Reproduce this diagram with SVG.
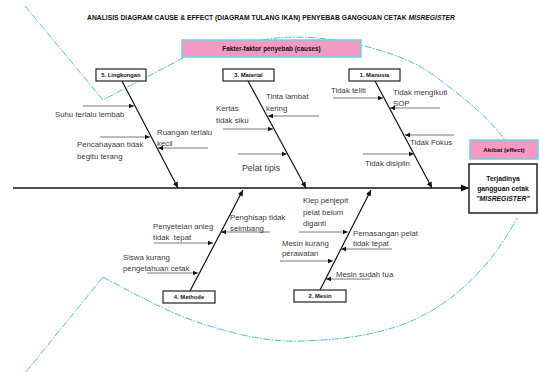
<svg xmlns="http://www.w3.org/2000/svg" width="539" height="372" viewBox="0 0 539 372">
<style>
text{font-family:"Liberation Sans","Open Sans",sans-serif;fill:#3a3a3a}
.t{font-size:7.8px}
.b{font-weight:bold;fill:#111}
.lbl{font-size:5.8px;font-weight:bold;text-anchor:middle;fill:#111}
.box{fill:#fff;stroke:#222;stroke-width:1.2}
.pink{fill:#f49ac2;stroke:#6fd0e0;stroke-width:1.5}
.fish{fill:none;stroke:#4cbfd9;stroke-width:1;stroke-dasharray:7 1.5 1.5 1.5}
.bone{stroke:#111;stroke-width:1.2;fill:none;marker-end:url(#a)}
.sub{stroke:#555;stroke-width:0.8;fill:none;marker-end:url(#s)}
</style>
<defs>
<marker id="a" markerWidth="7" markerHeight="6" refX="6" refY="3" orient="auto" markerUnits="userSpaceOnUse"><path d="M0,0.3 L6,3 L0,5.7 z" fill="#111"/></marker>
<marker id="s" markerWidth="6" markerHeight="6" refX="5" refY="3" orient="auto" markerUnits="userSpaceOnUse"><path d="M0,0.7 L5,3 L0,5.3 z" fill="#111"/></marker>
<marker id="big" markerWidth="9" markerHeight="8" refX="8" refY="4" orient="auto" markerUnits="userSpaceOnUse"><path d="M0,0.5 L8,4 L0,7.5 z" fill="#111"/></marker>
</defs>
<rect width="539" height="372" fill="#fff"/>
<g id="fish-outline">
<path class="fish" d="M25,6 L103,100 L183,58"/>
<path class="fish" d="M26,372 L103,277"/>
<path class="fish" d="M103,277 C140,297 170,313 200,323 C240,336 270,342 300,341 C350,340 390,332 420,317 C470,292 500,250 517,218"/>
<path class="fish" d="M262,40 C300,33 345,40 372,48 C400,56 420,64 440,80 C470,102 490,120 505,140"/>
</g>
<text id="title" x="87" y="20" font-size="6.3" class="b" textLength="368" lengthAdjust="spacingAndGlyphs">ANALISIS DIAGRAM CAUSE &amp; EFFECT (DIAGRAM TULANG IKAN) PENYEBAB GANGGUAN CETAK <tspan font-style="italic">MISREGISTER</tspan></text>
<g id="causes-header">
<rect class="pink" x="182" y="40" width="179" height="17"/>
<text x="271.5" y="51" font-size="6.4" class="b" text-anchor="middle">Fakter-faktor penyebab (causes)</text>
</g>
<g id="connectors">
<line x1="13" y1="188" x2="469" y2="188" stroke="#111" stroke-width="1.5" marker-end="url(#big)"/>
<path class="bone" d="M122,81 L178,188"/>
<path class="bone" d="M248,81 L306,188"/>
<path class="bone" d="M375,81 L432,188"/>
<path class="bone" d="M190,291 L243,190"/>
<path class="bone" d="M320,290 L371,190"/>
<path class="sub" d="M83,106 L134,106"/>
<path class="sub" d="M100,137 L150,137"/>
<path class="sub" d="M208,148 L158,148"/>
<path class="sub" d="M319,116 L268,116"/>
<path class="sub" d="M223,129 L273,129"/>
<path class="sub" d="M238,154 L287,154"/>
<path class="sub" d="M333,98 L383,98"/>
<path class="sub" d="M440,108 L390,108"/>
<path class="sub" d="M454,135 L405,135"/>
<path class="sub" d="M363,154 L414,154"/>
<path class="sub" d="M154,243 L213,243"/>
<path class="sub" d="M147,273 L198,273"/>
<path class="sub" d="M270,232 L221,232"/>
<path class="sub" d="M299,232 L348,232"/>
<path class="sub" d="M392,249 L341,249"/>
<path class="sub" d="M280,261 L333,261"/>
<path class="sub" d="M370,279 L326,279"/>
</g>
<g id="lingkungan">
<rect class="box" x="96" y="69" width="50" height="12"/>
<text class="lbl" x="121" y="77">5. Lingkungan</text>
<text class="t" x="55" y="117">Suhu terlalu lembab</text>
<text class="t" x="77" y="146.5">Pencahayaan tidak</text>
<text class="t" x="77" y="158.5">begitu terang</text>
<text class="t" x="157" y="134.5">Ruangan terlalu</text>
<text class="t" x="157" y="145.5">kecil</text>
</g>
<g id="material">
<rect class="box" x="223" y="69" width="51" height="12"/>
<text class="lbl" x="248.5" y="77">3. Material</text>
<text class="t" x="266" y="98.5">Tinta lambat</text>
<text class="t" x="266" y="110.5">kering</text>
<text class="t" x="216" y="110.5">Kertas</text>
<text class="t" x="216" y="122.5">tidak siku</text>
<text x="242" y="170.5" font-size="8.8">Pelat tipis</text>
</g>
<g id="manusia">
<rect class="box" x="349" y="69" width="51" height="12"/>
<text class="lbl" x="374.5" y="77">1. Manusia</text>
<text class="t" x="331" y="92.5">Tidak teliti</text>
<text class="t" x="393" y="94.5">Tidak mengikuti</text>
<text class="t" x="393" y="105.5">SOP</text>
<text class="t" x="410" y="144.5">Tidak Fokus</text>
<text class="t" x="365" y="165.5">Tidak disiplin</text>
</g>
<g id="methode">
<rect class="box" x="163" y="291" width="52" height="12"/>
<text class="lbl" x="189" y="299">4. Methode</text>
<text class="t" x="153" y="228.5">Penyetelan anleg</text>
<text class="t" x="153" y="239.5" xml:space="preserve">tidak  tepat</text>
<text class="t" x="123" y="259.5">Siswa kurang</text>
<text class="t" x="123" y="270.5">pengetahuan cetak</text>
<text class="t" x="230" y="219.5">Penghisap tidak</text>
<text class="t" x="230" y="230.5">seimbang</text>
</g>
<g id="mesin">
<rect class="box" x="294" y="290" width="52" height="12"/>
<text class="lbl" x="320" y="298">2. Mesin</text>
<text class="t" x="303" y="202.5">Klep penjepit</text>
<text class="t" x="303" y="214.5">pelat belum</text>
<text class="t" x="303" y="225.5">diganti</text>
<text class="t" x="353" y="235.5">Pemasangan pelat</text>
<text class="t" x="353" y="245.5">tidak tepat</text>
<text class="t" x="282" y="245.5">Mesin kurang</text>
<text class="t" x="282" y="255.5">perawatan</text>
<text class="t" x="336" y="276.5">Mesin sudah tua</text>
</g>
<g id="akibat">
<rect class="pink" x="470" y="140" width="68" height="19"/>
<text x="504" y="152" font-size="6.2" class="b" text-anchor="middle">Akibat (effect)</text>
</g>
<g id="effect">
<rect x="469" y="164" width="68" height="49" fill="#fff" stroke="#222" stroke-width="1.5"/>
<text x="503" y="181" font-size="6.8" class="b" text-anchor="middle">Terjadinya</text>
<text x="503" y="190.5" font-size="6.8" class="b" text-anchor="middle">gangguan cetak</text>
<text x="503" y="200.5" font-size="6.8" class="b" font-style="italic" text-anchor="middle">"MISREGISTER"</text>
</g>
</svg>
